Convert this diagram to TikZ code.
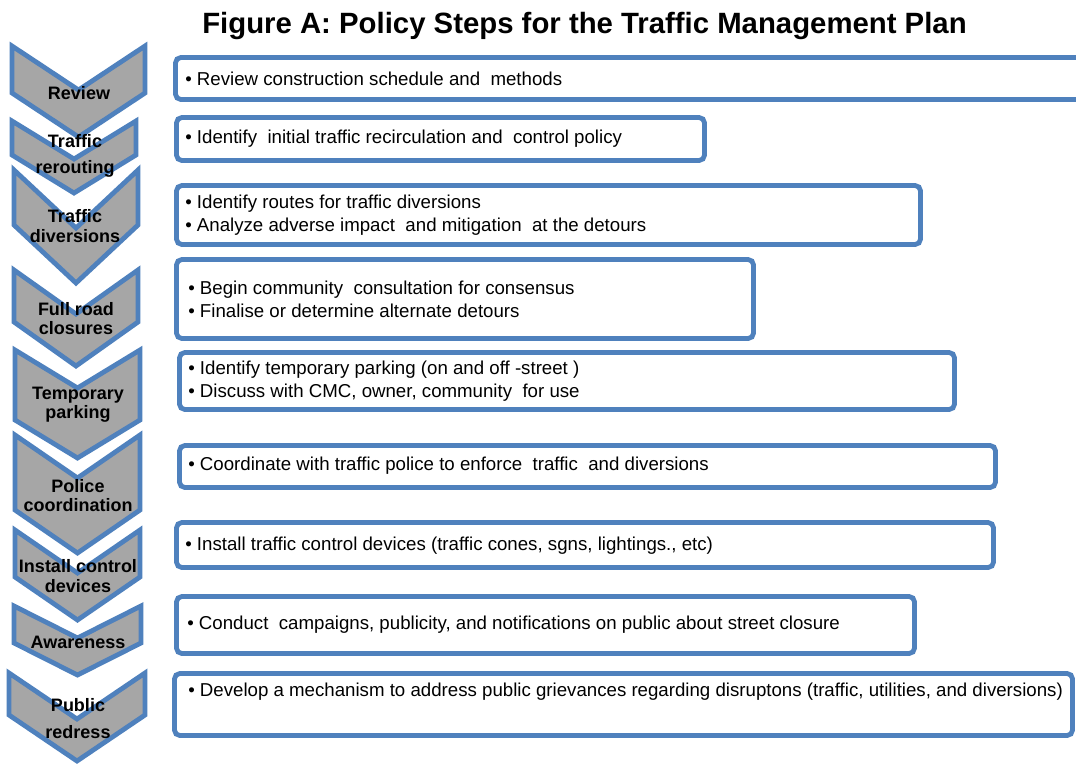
\documentclass[tikz,border=0pt]{standalone}
\usepackage{fontspec}
\setmainfont{Liberation Sans}
\definecolor{cblue}{HTML}{4F81BD}
\definecolor{cgray}{HTML}{A6A6A6}
\newcommand{\mychev}[5]{\draw[chev] (#1,#3) -- ({(#1+#2)/2},{#3+#5}) -- (#2,#3) -- (#2,#4) -- ({(#1+#2)/2},{#4+#5}) -- (#1,#4) -- cycle;}
\begin{document}
\begin{tikzpicture}[x=0.75pt,y=-0.75pt,
  chev/.style={draw=cblue,fill=cgray,line width=3.6pt,miter limit=10},
  stepbox/.style={draw=cblue,fill=white,line width=3.6pt,rounded corners=4pt},
  lab/.style={font=\fontsize{13.5}{14.6}\bfseries\selectfont,align=center,inner sep=0pt,text=black},
  txt/.style={font=\fontsize{14}{17.3}\selectfont,anchor=west,align=left,inner sep=0pt,text=black},
  ttl/.style={font=\fontsize{22}{26}\bfseries\selectfont,inner sep=0pt}]
\useasboundingbox (0,0) rectangle (1076,765);
\clip (0,0) rectangle (1076,765);
\fill[white] (0,0) rectangle (1076,765);
% title
\node[ttl] (title) at (584.5,26) {Figure A: Policy Steps for the Traffic Management Plan};
% chevrons
\mychev{12}{145}{46}{93}{44}
\mychev{12}{136}{121}{155}{38}
\mychev{14}{138}{170}{225}{58}
\mychev{14}{138}{270}{322}{44}
\mychev{15}{140}{350}{420}{38}
\mychev{15}{140}{435}{510}{43}
\mychev{15}{140}{530}{577}{43}
\mychev{14}{141}{606}{643}{32}
\mychev{9}{145}{673}{715}{46}
% boxes
\draw[stepbox] (175.5,57.5) rectangle (1095,99.5);
\draw[stepbox] (176.5,117.5) rectangle (704.5,160.5);
\draw[stepbox] (176.5,185.5) rectangle (920.5,244.5);
\draw[stepbox] (176.5,259.5) rectangle (753.5,338.5);
\draw[stepbox] (179.5,352.5) rectangle (954.5,409.5);
\draw[stepbox] (179.5,445.5) rectangle (995.5,487.5);
\draw[stepbox] (176.5,522.5) rectangle (993.5,567.5);
\draw[stepbox] (176.5,596.5) rectangle (914.5,653.5);
\draw[stepbox] (174.5,673.5) rectangle (1072.5,735.5);
% chevron labels
\node[lab] (l1) at (79,93) {Review};
\node[lab] (l2) at (75,156) {Traffic\\[5pt]rerouting};
\node[lab] (l3) at (75,226) {Traffic\\diversions};
\node[lab] (l4) at (76,318.5) {Full road\\closures};
\node[lab] (l5) at (78,404.5) {Temporary\\parking};
\node[lab] (l6) at (78,495.5) {Police\\coordination};
\node[lab] (l7) at (78,576) {Install control\\devices};
\node[lab] (l8) at (78,642) {Awareness};
\node[lab] (l9) at (78,718.5) {Public\\[5pt]redress};
% box texts
\node[txt] (t1) at (185,79) {• Review construction schedule and\ \ methods};
\node[txt] (t2) at (185,139) {• Identify\ \ initial traffic recirculation and\ \ control policy};
\node[txt] (t3) at (185,215) {• Identify routes for traffic diversions\\• Analyze adverse impact\ \ and mitigation\ \ at the detours};
\node[txt] (t4) at (188,299.5) {• Begin community\ \ consultation for consensus\\• Finalise or determine alternate detours};
\node[txt] (t5) at (188,381) {• Identify temporary parking (on and off -street )\\• Discuss with CMC, owner, community\ \ for use};
\node[txt] (t6) at (188,466) {• Coordinate with traffic police to enforce\ \ traffic\ \ and diversions};
\node[txt] (t7) at (185,546) {• Install traffic control devices (traffic cones, sgns, lightings., etc)};
\node[txt] (t8) at (187,625) {• Conduct\ \ campaigns, publicity, and notifications on public about street closure};
\node[txt] (t9) at (188,692) {• Develop a mechanism to address public grievances regarding disruptons (traffic, utilities, and diversions)};
\end{tikzpicture}
\end{document}
